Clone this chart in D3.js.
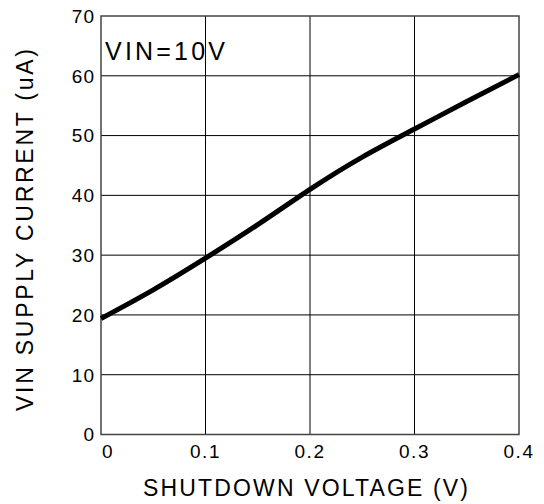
<!DOCTYPE html>
<html>
<head>
<meta charset="utf-8">
<script src="https://cdn.jsdelivr.net/npm/d3@7"></script>
<style>
  body { margin: 0; background: #fff; }
  text { font-family: "Liberation Sans", Arial, sans-serif; fill: #000; }
</style>
</head>
<body>
<div id="chart"></div>
<script>
// data
var voltage = [0, 0.05, 0.1, 0.15, 0.2, 0.25, 0.3, 0.35, 0.4];
var current = [19.4, 24.2, 29.5, 35.1, 41.0, 46.4, 51.1, 55.7, 60.2];
var xTicks = [0, 0.1, 0.2, 0.3, 0.4];
var xTickLabels = ['0', '0.1', '0.2', '0.3', '0.4'];
var yTicks = [0, 10, 20, 30, 40, 50, 60, 70];

var width = 544, height = 504;
var margin = { top: 16, right: 25, bottom: 70, left: 101 };

var svg = d3.select('#chart').append('svg')
  .attr('width', width)
  .attr('height', height);

var x = d3.scaleLinear().domain([0, 0.4]).range([margin.left, 519]);
var y = d3.scaleLinear().domain([0, 70]).range([434.5, margin.top]);

// grid
svg.append('g')
  .selectAll('line')
  .data(xTicks.slice(1, -1))
  .enter().append('line')
  .attr('x1', function(d) { return x(d); })
  .attr('x2', function(d) { return x(d); })
  .attr('y1', y(0))
  .attr('y2', y(70))
  .attr('stroke', '#000')
  .attr('stroke-width', 1);

svg.append('g')
  .selectAll('line')
  .data(yTicks.slice(1, -1))
  .enter().append('line')
  .attr('x1', x(0))
  .attr('x2', x(0.4))
  .attr('y1', function(d) { return y(d); })
  .attr('y2', function(d) { return y(d); })
  .attr('stroke', '#000')
  .attr('stroke-width', 1);

// frame
svg.append('rect')
  .attr('x', x(0))
  .attr('y', y(70))
  .attr('width', x(0.4) - x(0))
  .attr('height', y(0) - y(70))
  .attr('fill', 'none')
  .attr('stroke', '#444')
  .attr('stroke-width', 1.5);

// tick labels
svg.append('g')
  .selectAll('text')
  .data(yTicks)
  .enter().append('text')
  .attr('x', 95)
  .attr('y', function(d) { return y(d); })
  .attr('dy', '0.36em')
  .attr('text-anchor', 'end')
  .style('font-size', '19px')
  .style('letter-spacing', '1px')
  .text(function(d) { return d; });

svg.append('g')
  .selectAll('text')
  .data(xTicks)
  .enter().append('text')
  .attr('x', function(d, i) { return i === 0 ? x(d) + 1 : x(d); })
  .attr('y', 458)
  .attr('text-anchor', function(d, i) { return i === 0 ? 'start' : 'middle'; })
  .style('font-size', '19px')
  .style('letter-spacing', '1.5px')
  .text(function(d, i) { return xTickLabels[i]; });

// axis titles
svg.append('text')
  .attr('x', 305.5)
  .attr('y', 496)
  .attr('text-anchor', 'middle')
  .attr('textLength', 325)
  .attr('lengthAdjust', 'spacing')
  .style('font-size', '23px')
  .text('SHUTDOWN VOLTAGE (V)');

svg.append('text')
  .attr('transform', 'translate(33,230)rotate(-90)')
  .attr('text-anchor', 'middle')
  .attr('textLength', 362)
  .attr('lengthAdjust', 'spacing')
  .style('font-size', '23px')
  .text('VIN SUPPLY CURRENT (uA)');

svg.append('text')
  .attr('x', 105)
  .attr('y', 60)
  .attr('textLength', 120)
  .attr('lengthAdjust', 'spacing')
  .style('font-size', '25px')
  .text('VIN=10V');

// curve
var line = d3.line()
  .x(function(d, i) { return x(voltage[i]); })
  .y(function(d) { return y(d); })
  .curve(d3.curveNatural);

svg.append('path')
  .datum(current)
  .attr('d', line)
  .attr('fill', 'none')
  .attr('stroke', '#000')
  .attr('stroke-width', 5);
</script>
</body>
</html>
